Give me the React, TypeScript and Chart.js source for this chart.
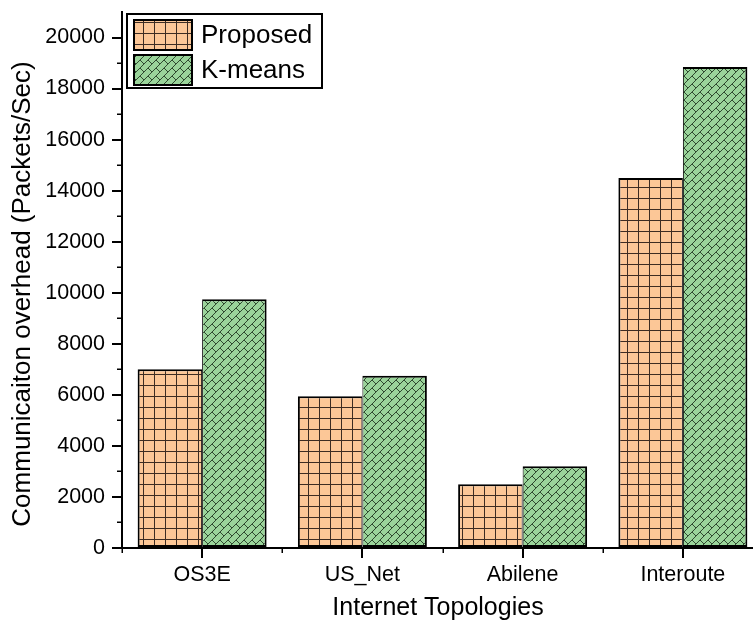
import React, { useEffect, useRef } from "react";
import { Chart, registerables } from "chart.js";

Chart.register(...registerables);

// ---- data ----
const categories = ["OS3E", "US_Net", "Abilene", "Interoute"];
const proposed = [7000, 5950, 2500, 14500];
const kmeans = [9750, 6750, 3200, 18850];
const seriesNames = ["Proposed", "K-means"];
const yTickValues = [0, 2000, 4000, 6000, 8000, 10000, 12000, 14000, 16000, 18000, 20000];
const yMinorValues = [1000, 3000, 5000, 7000, 9000, 11000, 13000, 15000, 17000, 19000];
const yMax = 21000;
const xTitle = "Internet Topologies";
const yTitle = "Communicaiton overhead (Packets/Sec)";

const FONT = "'Liberation Sans', Arial, sans-serif";

// orange fill with a square grid
function gridPattern(): CanvasPattern | string {
  const s = 11;
  const c = document.createElement("canvas");
  c.width = s;
  c.height = s;
  const g = c.getContext("2d");
  if (!g) return "#FCC797";
  g.fillStyle = "#FCC797";
  g.fillRect(0, 0, s, s);
  g.fillStyle = "#3d2c22";
  g.fillRect(0, 0, s, 1);
  g.fillRect(0, 0, 1, s);
  return g.createPattern(c, "repeat") || "#FCC797";
}

// green fill with a diagonal brick hatch
function brickPattern(): CanvasPattern | string {
  const s = 8;
  const c = document.createElement("canvas");
  c.width = s;
  c.height = s;
  const g = c.getContext("2d");
  if (!g) return "#9AD49A";
  g.fillStyle = "#9AD49A";
  g.fillRect(0, 0, s, s);
  g.strokeStyle = "#2f4a2f";
  g.lineWidth = 1;
  g.beginPath();
  g.moveTo(-1, s + 1);
  g.lineTo(s + 1, -1);
  g.moveTo(-1, 1);
  g.lineTo(1, -1);
  g.moveTo(s - 1, s + 1);
  g.lineTo(s + 1, s - 1);
  g.moveTo(s / 2, s / 2);
  g.lineTo(s, s);
  g.stroke();
  return g.createPattern(c, "repeat") || "#9AD49A";
}

const decorPlugin = {
  id: "decor",
  afterDraw(chart: any) {
    const { ctx, chartArea, scales } = chart;
    const ys = scales.y;
    ctx.save();

    // minor ticks
    ctx.strokeStyle = "#000";
    ctx.lineWidth = 1.5;
    for (const v of yMinorValues) {
      const py = Math.round(ys.getPixelForValue(v)) + 0.25;
      ctx.beginPath();
      ctx.moveTo(chartArea.left - 5, py);
      ctx.lineTo(chartArea.left, py);
      ctx.stroke();
    }
    const step = (chartArea.right - chartArea.left) / categories.length;
    for (let i = 0; i <= categories.length; i++) {
      const px = Math.round(chartArea.left + i * step) + 0.25;
      ctx.beginPath();
      ctx.moveTo(px, chartArea.bottom);
      ctx.lineTo(px, chartArea.bottom + 5);
      ctx.stroke();
    }

    // axis titles
    ctx.fillStyle = "#000";
    ctx.font = `25px ${FONT}`;
    ctx.textAlign = "center";
    ctx.textBaseline = "alphabetic";
    ctx.fillText(xTitle, 438, 615);

    ctx.save();
    ctx.translate(30, 294);
    ctx.rotate(-Math.PI / 2);
    ctx.font = `26px ${FONT}`;
    ctx.fillText(yTitle, 0, 0);
    ctx.restore();

    // legend box
    const lx = 127, ly = 14, lw = 195, lh = 74;
    ctx.fillStyle = "#fff";
    ctx.fillRect(lx, ly, lw, lh);
    ctx.strokeStyle = "#000";
    ctx.lineWidth = 2;
    ctx.strokeRect(lx, ly, lw, lh);

    chart.data.datasets.forEach((ds: any, i: number) => {
      const sx = 134, sy = 20 + i * 35, sw = 58, sh = 30;
      ctx.fillStyle = ds.backgroundColor;
      ctx.fillRect(sx, sy, sw, sh);
      ctx.strokeStyle = "#000";
      ctx.lineWidth = 2;
      ctx.strokeRect(sx, sy, sw, sh);
      ctx.fillStyle = "#000";
      ctx.font = `26px ${FONT}`;
      ctx.textAlign = "left";
      ctx.textBaseline = "middle";
      ctx.fillText(ds.label, 201, sy + sh / 2 + 1);
    });

    ctx.restore();
  },
};

export default function App() {
  const canvasRef = useRef<HTMLCanvasElement | null>(null);

  useEffect(() => {
    const canvas = canvasRef.current;
    if (!canvas) return;

    const axisGrid = {
      display: true,
      drawOnChartArea: false,
      drawTicks: true,
      tickLength: 10,
      color: "#000",
      lineWidth: 2,
    };
    const axisBorder = { display: true, color: "#000", width: 2 };
    const noPad = (s: any) => {
      s.paddingTop = 0;
      s.paddingBottom = 0;
      s.paddingLeft = 0;
      s.paddingRight = 0;
    };

    const chart = new Chart(canvas, {
      type: "bar",
      data: {
        labels: categories,
        datasets: [
          {
            label: seriesNames[0],
            data: proposed,
            backgroundColor: gridPattern() as any,
            borderColor: "#000",
            borderWidth: { top: 2, left: 2, bottom: 2, right: 1 } as any,
            borderSkipped: false,
            categoryPercentage: 0.805,
            barPercentage: 1,
          },
          {
            label: seriesNames[1],
            data: kmeans,
            backgroundColor: brickPattern() as any,
            borderColor: "#000",
            borderWidth: { top: 2, left: 1, bottom: 2, right: 2 } as any,
            borderSkipped: false,
            categoryPercentage: 0.805,
            barPercentage: 1,
          },
        ],
      },
      options: {
        responsive: false,
        animation: false,
        devicePixelRatio: 1,
        layout: { padding: { top: 12, left: 0, right: 0, bottom: 0 } },
        plugins: {
          legend: { display: false },
          tooltip: { enabled: false },
        },
        scales: {
          x: {
            type: "category",
            offset: true,
            grid: { ...axisGrid, offset: false },
            border: axisBorder,
            ticks: {
              color: "#000",
              font: { family: FONT, size: 21.5 },
              padding: 4,
              maxRotation: 0,
              autoSkip: false,
            },
            afterFit: (s: any) => {
              s.height = 83;
              noPad(s);
            },
          },
          y: {
            type: "linear",
            min: 0,
            max: yMax,
            grid: axisGrid,
            border: axisBorder,
            ticks: {
              color: "#000",
              font: { family: FONT, size: 21.5 },
              padding: 7,
              callback: (v: any) => String(v),
            },
            afterBuildTicks: (s: any) => {
              s.ticks = yTickValues.map((v) => ({ value: v }));
            },
            afterFit: (s: any) => {
              s.width = 122;
              noPad(s);
            },
          },
        },
      } as any,
      plugins: [decorPlugin],
    });

    return () => chart.destroy();
  }, []);

  return (
    <div
      style={{
        position: "fixed",
        left: 0,
        top: 0,
        width: 753,
        height: 631,
        overflow: "hidden",
        background: "#fff",
      }}
    >
      <canvas
        ref={canvasRef}
        width={763}
        height={631}
        style={{ display: "block", width: 763, height: 631 }}
      />
    </div>
  );
}
